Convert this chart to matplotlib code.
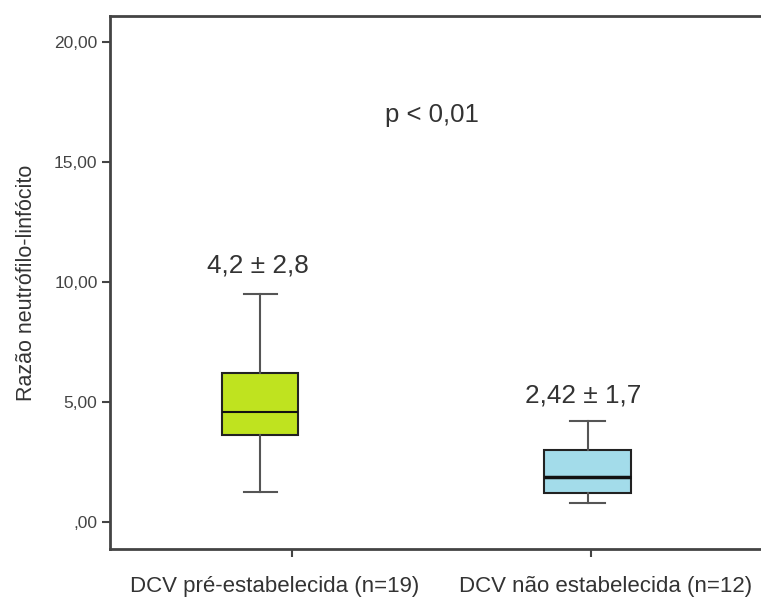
import matplotlib
matplotlib.use("Agg")
import matplotlib.pyplot as plt
import matplotlib.transforms as mtransforms

plt.rcParams['font.family'] = ['Liberation Sans', 'DejaVu Sans']

# box statistics
groups = ["DCV pré-estabelecida (n=19)", "DCV não estabelecida (n=12)"]
medians = [4.58, 1.89]
q1s = [3.62, 1.20]
q3s = [6.20, 3.00]
whis_lo = [1.25, 0.80]
whis_hi = [9.50, 4.20]
labels_top = ["4,2 ± 2,8", "2,42 ± 1,7"]
label_y = [10.67, 5.29]
box_colors = ["#bfe31f", "#a3dcea"]
yticks = [0, 5, 10, 15, 20]
ytick_labels = [",00", "5,00", "10,00", "15,00", "20,00"]

fig = plt.figure(figsize=(7.61, 5.99), dpi=100)
ax = fig.add_axes([0.1446, 0.0835, 0.8554, 0.8898])

stats = []
for i in range(len(groups)):
    stats.append(dict(med=medians[i], q1=q1s[i], q3=q3s[i],
                      whislo=whis_lo[i], whishi=whis_hi[i], fliers=[]))

positions = [0.893, 1.99]
bp = ax.bxp(stats, positions=positions, widths=[0.254, 0.291],
            capwidths=[0.11, 0.117], patch_artist=True, showfliers=False,
            boxprops=dict(edgecolor="#222222", linewidth=1.5),
            whiskerprops=dict(color="#555555", linewidth=1.5),
            capprops=dict(color="#555555", linewidth=1.5),
            medianprops=dict(color="#111111", linewidth=1.5))
for patch, c in zip(bp["boxes"], box_colors):
    patch.set_facecolor(c)
bp["medians"][1].set_linewidth(2.5)

label_x = [0.885, 1.975]
for x, y, t in zip(label_x, label_y, labels_top):
    ax.text(x, y, t, ha="center", va="center", fontsize=18.8, color="#333333")
ax.text(1.468, 16.96, "p < 0,01", ha="center", va="center", fontsize=18.5, color="#333333")

ax.set_xlim(0.391, 2.569)
ax.set_ylim(-1.12, 21.08)
ax.set_xticks([1, 2])
ax.set_xticklabels([])
# category names sit a bit left of their ticks in the original
trans = mtransforms.blended_transform_factory(ax.transData, ax.transAxes)
for x, g in zip([0.941, 2.05], groups):
    ax.text(x, -0.071, g, transform=trans, ha="center", va="center",
            fontsize=16, color="#333333", clip_on=False)
ax.set_yticks(yticks)
ax.set_yticklabels(ytick_labels, fontsize=12.5, color="#444444")
ax.set_ylabel("Razão neutrófilo-linfócito", fontsize=15.5, color="#333333", labelpad=12)
ax.tick_params(axis="x", length=6, width=1.5, color="#444444")
ax.tick_params(axis="y", length=6, width=1.5, color="#444444", pad=3)

for s in ["left", "top", "bottom"]:
    ax.spines[s].set_color("#444444")
    ax.spines[s].set_linewidth(2)
ax.spines["right"].set_visible(False)

fig.savefig("out.png", dpi=100)
